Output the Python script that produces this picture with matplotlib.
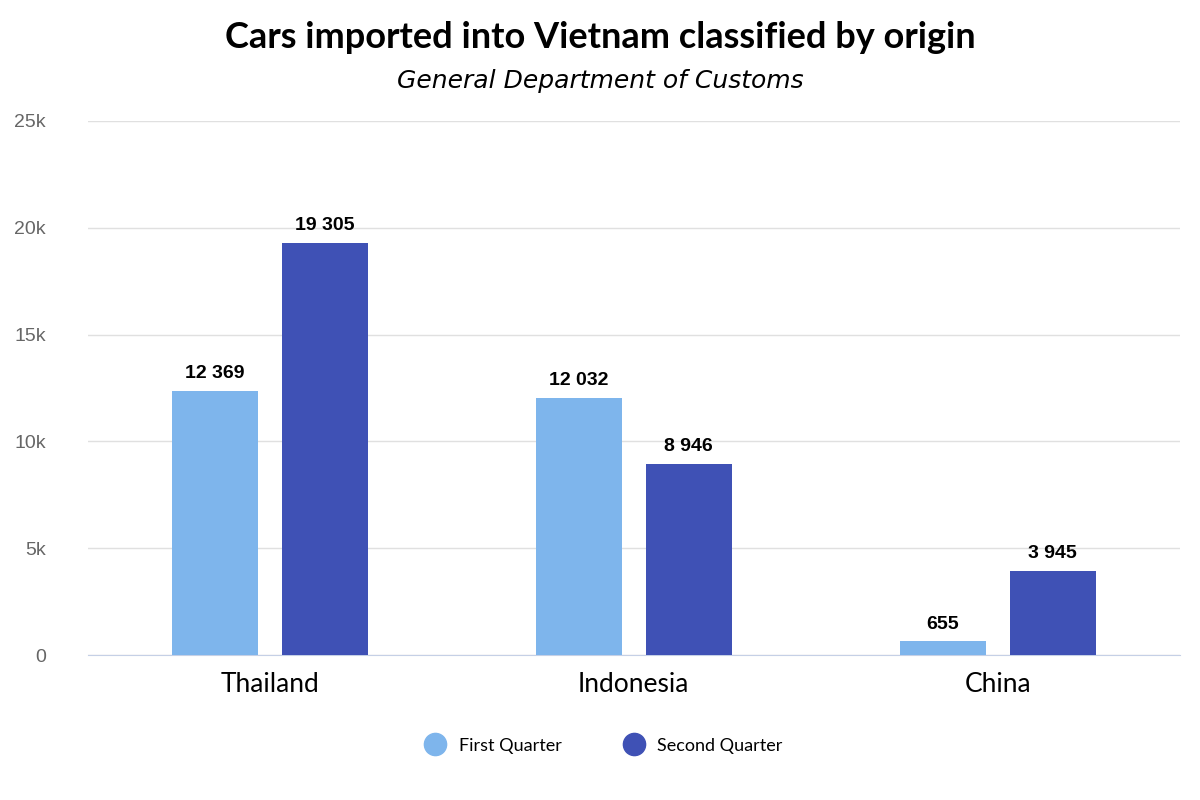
import matplotlib
matplotlib.use("Agg")
import matplotlib.pyplot as plt
from matplotlib.lines import Line2D
import numpy as np

categories = ["Thailand", "Indonesia", "China"]
first_quarter = [12369, 12032, 655]
second_quarter = [19305, 8946, 3945]
series_names = ["First Quarter", "Second Quarter"]
colors = ["#7eb5ec", "#3f51b5"]

fig = plt.figure(figsize=(12, 8), dpi=100)
ax = fig.add_axes([0.073, 0.181, 0.91, 0.668])

x = np.arange(len(categories))
w = 0.236
off = 0.151
for vals, dx, c in [(first_quarter, -off, colors[0]), (second_quarter, off, colors[1])]:
    bars = ax.bar(x + dx, vals, width=w, color=c, zorder=3)
    for b, v in zip(bars, vals):
        ax.text(b.get_x() + b.get_width() / 2, v + 400, f"{v:,}".replace(",", " "),
                ha="center", va="bottom", fontsize=14, fontweight="bold",
                family="Liberation Sans", color="black")

ax.set_xlim(-0.5, 2.5)
ax.set_ylim(0, 25000)
ax.set_yticks(range(0, 25001, 5000))
ax.set_yticklabels(["0", "5k", "10k", "15k", "20k", "25k"], fontsize=14,
                   color="#666666", family="Liberation Sans")
ax.set_xticks(x)
ax.set_xticklabels(categories, fontsize=19, family="Lato", color="black")
ax.tick_params(axis="both", length=0)
ax.tick_params(axis="y", pad=30)
ax.tick_params(axis="x", pad=12)
ax.grid(axis="y", color="#e0e0e0", linewidth=1, zorder=0)
for s in ["top", "right", "left"]:
    ax.spines[s].set_visible(False)
ax.spines["bottom"].set_color("#c5d0e6")

fig.text(0.5, 0.94, "Cars imported into Vietnam classified by origin", ha="center",
         fontsize=26, fontweight="bold", family="Lato")
fig.text(0.5, 0.89, "General Department of Customs", ha="center",
         fontsize=18, style="italic", family="DejaVu Sans")

handles = [Line2D([], [], marker="o", linestyle="", markersize=16, color=c) for c in colors]
fig.legend(handles, series_names, loc="center", bbox_to_anchor=(0.5, 0.068), ncol=2,
           frameon=False, prop={"family": "Lato", "size": 13}, handletextpad=0.3,
           columnspacing=3)

fig.savefig("out.png", dpi=100)
